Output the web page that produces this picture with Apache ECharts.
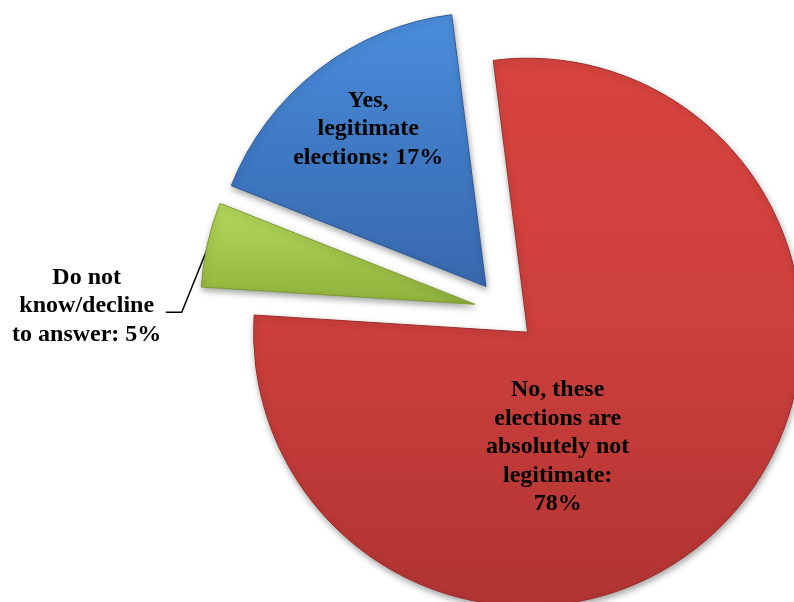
<!DOCTYPE html>
<html>
<head>
<meta charset="utf-8">
<script src="https://cdn.jsdelivr.net/npm/echarts@6/dist/echarts.min.js"></script>
<style>
html,body{margin:0;padding:0;background:#fff;}
#chart{width:794px;height:602px;}
</style>
</head>
<body>
<div id="chart"></div>
<script>
// ---- data ----
const categories = [
  'No, these elections are absolutely not legitimate',
  'Do not know/decline to answer',
  'Yes, legitimate elections'
];
const values = [78, 5, 17];
const labelPrefixes = [
  'No, these\nelections are\nabsolutely not\nlegitimate:\n',
  'Do not\nknow/decline\nto answer: ',
  'Yes,\nlegitimate\nelections: '
];

// ---- styles ----
const gradients = [
  ['#d8443f', '#cc3f3c', '#b03432'],
  ['#b3d85c', '#a1c64b', '#8fb23c'],
  ['#4b8edc', '#3f79c4', '#3868ad']
];
const borders = ['#9c2e2c', '#7f9a35', '#2f5a96'];
const labelShift = [[-72, 19], [-71, 65], [-32, -47]];

const chart = echarts.init(document.getElementById('chart'));
const data = categories.map((name, i) => ({
  name: name,
  value: values[i],
  selected: true,
  itemStyle: {
    color: {
      type: 'linear', x: 0, y: 0, x2: 0, y2: 1,
      colorStops: [
        {offset: 0, color: gradients[i][0]},
        {offset: 0.5, color: gradients[i][1]},
        {offset: 1, color: gradients[i][2]}
      ]
    },
    borderColor: borders[i],
    borderWidth: 1
  },
  label: { position: i === 1 ? 'outside' : 'inside' },
  labelLine: { show: i === 1 }
}));

chart.setOption({
  backgroundColor: '#ffffff',
  animation: false,
  series: [{
    type: 'pie',
    center: [505, 311],
    radius: [0, 274],
    startAngle: 97.2,
    clockwise: true,
    selectedMode: 'multiple',
    selectedOffset: 31,
    avoidLabelOverlap: false,
    emphasis: { disabled: true },
    itemStyle: {
      shadowBlur: 6,
      shadowColor: 'rgba(0,0,0,0.35)',
      shadowOffsetX: 1,
      shadowOffsetY: 3
    },
    label: {
      show: true,
      formatter: p => labelPrefixes[p.dataIndex] + p.value + '%',
      fontFamily: '"Liberation Serif", "DejaVu Serif", serif',
      fontWeight: 'bold',
      fontSize: 24,
      lineHeight: 28.5,
      color: '#000',
      align: 'center'
    },
    labelLine: {
      lineStyle: { color: '#000', width: 1.5 }
    },
    labelLayout: function (params) {
      const i = params.dataIndex;
      const out = {
        dx: labelShift[i][0],
        dy: labelShift[i][1],
        align: 'center'
      };
      if (i === 1) {
        out.labelLinePoints = [[239, 252], [212, 319], [196, 319]];
      }
      return out;
    },
    data: data
  }]
});
</script>
</body>
</html>
